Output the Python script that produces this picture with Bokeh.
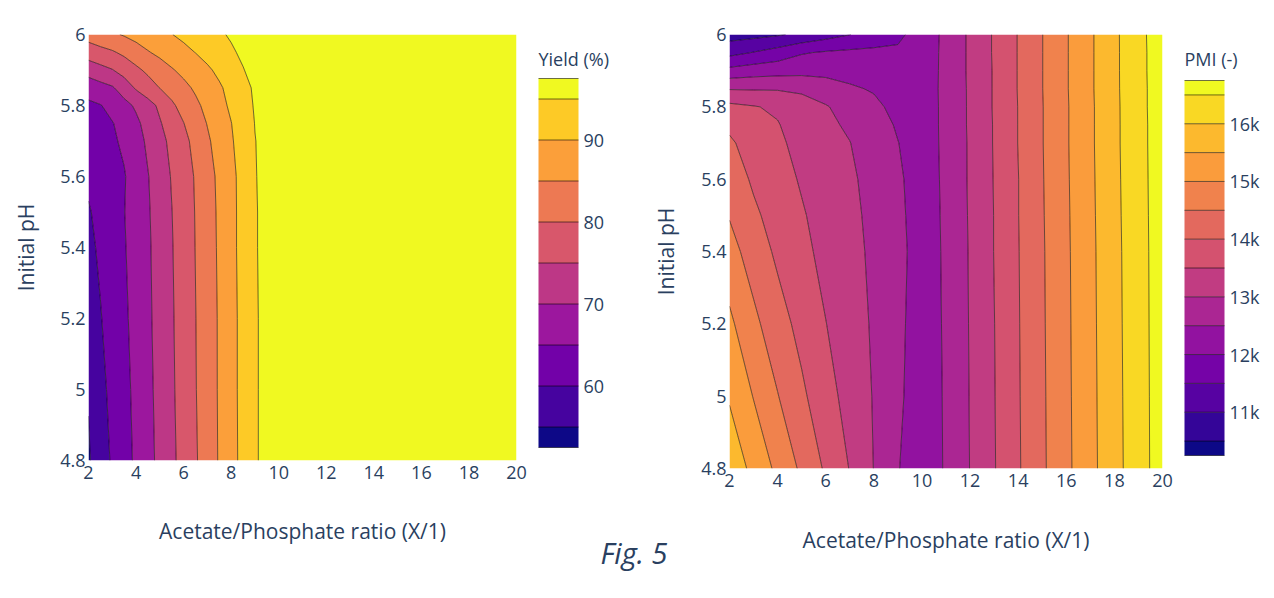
import numpy as np
from bokeh.plotting import figure
from bokeh.layouts import row
from bokeh.models import Range1d, FixedTicker, CustomJSTickFormatter, Title
from bokeh.embed import file_html
from bokeh.resources import INLINE

# ---------------- data ----------------
PH = [4.8, 5.0, 5.2, 5.4, 5.5, 5.6, 5.7, 5.75, 5.8, 5.85, 5.9, 5.95, 6.0]

# Yield (%) surface; columns at these Acetate/Phosphate ratios
YIELD_RATIO = [2, 2.5, 3, 3.5, 4, 4.5, 5, 5.5, 6, 6.5, 7, 7.5, 8, 8.5, 9, 10, 20]
YIELD_PH_4_80 = [54.5, 57.6, 60.6, 63.2, 65.8, 68.5, 71.2, 74.0, 76.7, 79.5, 82.4, 85.4, 88.3, 91.4, 94.6, 97.4, 97.4]
YIELD_PH_5_00 = [55.3, 58.4, 61.5, 63.8, 66.0, 68.8, 71.5, 74.3, 77.0, 79.8, 82.5, 85.5, 88.4, 91.5, 94.6, 97.4, 97.4]
YIELD_PH_5_20 = [57.1, 59.7, 62.2, 64.3, 66.3, 69.1, 71.8, 74.5, 77.1, 79.9, 82.6, 85.5, 88.4, 91.5, 94.6, 97.4, 97.4]
YIELD_PH_5_40 = [58.8, 60.8, 62.7, 64.7, 66.6, 69.3, 72.0, 74.7, 77.4, 80.1, 82.8, 85.7, 88.6, 91.7, 94.7, 97.4, 97.4]
YIELD_PH_5_50 = [59.6, 61.3, 62.9, 64.9, 66.8, 69.5, 72.2, 74.9, 77.5, 80.2, 82.9, 85.8, 88.6, 91.7, 94.7, 97.4, 97.4]
YIELD_PH_5_60 = [60.9, 62.2, 63.4, 64.7, 67.0, 69.8, 72.5, 75.3, 77.8, 80.4, 83.2, 86.0, 88.8, 91.6, 94.8, 97.4, 97.4]
YIELD_PH_5_70 = [62.7, 63.5, 64.4, 65.7, 68.2, 70.8, 73.5, 76.2, 78.7, 81.4, 84.3, 86.9, 89.5, 92.1, 94.9, 97.4, 97.4]
YIELD_PH_5_75 = [63.6, 64.2, 64.8, 66.5, 69.0, 71.7, 74.6, 77.3, 79.9, 82.6, 85.2, 87.6, 89.9, 92.5, 95.1, 97.4, 97.4]
YIELD_PH_5_80 = [64.1, 64.8, 66.4, 68.5, 70.7, 73.2, 75.9, 79.2, 81.7, 84.0, 86.3, 88.5, 90.8, 93.0, 95.4, 97.4, 97.4]
YIELD_PH_5_85 = [67.0, 68.3, 69.5, 72.3, 75.6, 77.8, 80.1, 81.9, 83.8, 85.7, 87.6, 89.4, 91.4, 93.5, 95.7, 97.4, 97.4]
YIELD_PH_5_90 = [72.1, 73.5, 74.8, 76.9, 79.0, 81.0, 82.8, 84.6, 86.2, 87.7, 89.3, 91.0, 92.9, 94.8, 96.5, 97.4, 97.4]
YIELD_PH_5_95 = [77.4, 78.5, 79.5, 81.0, 82.9, 84.7, 86.1, 87.5, 88.8, 90.1, 91.5, 93.0, 94.4, 95.8, 97.3, 97.4, 97.4]
YIELD_PH_6_00 = [82.0, 83.2, 84.3, 85.4, 86.6, 87.7, 88.8, 89.9, 91.0, 92.1, 93.2, 94.4, 95.5, 96.6, 97.4, 97.4, 97.4]

# PMI surface (thousands); columns at these ratios
PMI_RATIO = [2, 3, 4, 5, 6, 7, 8, 9, 10, 11, 12, 13, 14, 15, 16, 17, 18, 19, 20]
PMI_PH_4_80 = [15.85, 15.36, 14.89, 14.41, 13.93, 13.48, 12.99, 12.52, 12.25, 12.54, 13.01, 13.47, 13.95, 14.42, 14.89, 15.36, 15.83, 16.29, 16.74]
PMI_PH_5_00 = [15.45, 14.98, 14.52, 14.09, 13.69, 13.32, 12.97, 12.59, 12.23, 12.55, 13.02, 13.48, 13.96, 14.43, 14.90, 15.37, 15.84, 16.30, 16.74]
PMI_PH_5_20 = [15.10, 14.62, 14.20, 13.85, 13.51, 13.23, 12.94, 12.62, 12.24, 12.56, 13.03, 13.49, 13.97, 14.44, 14.91, 15.38, 15.85, 16.31, 16.74]
PMI_PH_5_40 = [14.69, 14.27, 13.91, 13.63, 13.36, 13.15, 12.91, 12.66, 12.25, 12.57, 13.04, 13.51, 13.98, 14.45, 14.92, 15.39, 15.86, 16.32, 16.74]
PMI_PH_5_50 = [14.47, 14.09, 13.80, 13.55, 13.30, 13.12, 12.88, 12.62, 12.25, 12.58, 13.05, 13.51, 13.99, 14.46, 14.93, 15.40, 15.87, 16.33, 16.74]
PMI_PH_5_60 = [14.27, 13.93, 13.70, 13.45, 13.23, 13.08, 12.84, 12.58, 12.26, 12.59, 13.06, 13.52, 13.99, 14.47, 14.94, 15.41, 15.88, 16.34, 16.74]
PMI_PH_5_70 = [14.07, 13.80, 13.60, 13.33, 13.16, 13.01, 12.77, 12.51, 12.27, 12.60, 13.06, 13.53, 14.01, 14.48, 14.95, 15.42, 15.89, 16.35, 16.74]
PMI_PH_5_75 = [13.91, 13.63, 13.53, 13.25, 13.10, 12.93, 12.71, 12.45, 12.28, 12.60, 13.07, 13.53, 14.01, 14.48, 14.95, 15.42, 15.89, 16.35, 16.74]
PMI_PH_5_80 = [13.63, 13.53, 13.42, 13.17, 13.04, 12.79, 12.60, 12.37, 12.28, 12.60, 13.07, 13.54, 14.01, 14.48, 14.95, 15.42, 15.89, 16.36, 16.74]
PMI_PH_5_85 = [12.97, 12.96, 12.96, 12.93, 12.73, 12.56, 12.46, 12.26, 12.27, 12.61, 13.07, 13.54, 14.02, 14.49, 14.96, 15.43, 15.90, 16.36, 16.74]
PMI_PH_5_90 = [12.15, 12.26, 12.31, 12.34, 12.36, 12.34, 12.29, 12.17, 12.26, 12.61, 13.08, 13.54, 14.02, 14.49, 14.96, 15.43, 15.90, 16.37, 16.74]
PMI_PH_5_95 = [11.34, 11.52, 11.71, 11.96, 12.05, 12.10, 12.11, 12.08, 12.25, 12.61, 13.08, 13.55, 14.02, 14.49, 14.96, 15.43, 15.90, 16.37, 16.74]
PMI_PH_6_00 = [10.80, 10.85, 10.95, 11.10, 11.30, 11.49, 11.70, 11.90, 12.22, 12.61, 13.08, 13.55, 14.02, 14.49, 14.96, 15.43, 15.90, 16.38, 16.74]

YIELD_LEVELS = [52.5, 55, 60, 65, 70, 75, 80, 85, 90, 95, 97.5]
PMI_LEVELS = [10.25, 10.5, 11, 11.5, 12, 12.5, 13, 13.5, 14, 14.5, 15, 15.5, 16, 16.5, 16.75]

X_TICKS = [2, 4, 6, 8, 10, 12, 14, 16, 18, 20]
PH_TICKS = [4.8, 5.0, 5.2, 5.4, 5.6, 5.8, 6.0]
YIELD_CB_TICKS = [60, 70, 80, 90]
PMI_CB_TICKS = [11, 12, 13, 14, 15, 16]

# ---------------- styling ----------------
PLASMA = ['#0d0887', '#46039f', '#7201a8', '#9c179e', '#bd3786',
          '#d8576b', '#ed7953', '#fb9f3a', '#fdca26', '#f0f921']
FONT = "Open Sans"
TXT = "#2a3f5f"


def plasma_at(t):
    t = min(max(t, 0.0), 1.0) * (len(PLASMA) - 1)
    i = min(int(np.floor(t)), len(PLASMA) - 2)
    f = t - i
    a = PLASMA[i].lstrip('#')
    b = PLASMA[i + 1].lstrip('#')
    ca = [int(a[k:k + 2], 16) for k in (0, 2, 4)]
    cb = [int(b[k:k + 2], 16) for k in (0, 2, 4)]
    c = [round(ca[k] + (cb[k] - ca[k]) * f) for k in range(3)]
    return "#%02x%02x%02x" % tuple(c)


def band_palette(n):
    return [plasma_at(k / (n - 1)) for k in range(n)]


def make_plot(xs, z, levels, frame_w, frame_h, mb_left, mb_right, mb_bottom,
              cb_title, cb_ticks, cb_formatter, cb_height, cb_loc,
              x_title_standoff, y_title_standoff):
    p = figure(frame_width=frame_w, frame_height=frame_h,
               min_border_left=mb_left, min_border_right=mb_right,
               min_border_top=34, min_border_bottom=mb_bottom,
               x_range=Range1d(2, 20), y_range=Range1d(4.8, 6.0),
               output_backend="svg", toolbar_location=None)
    p.outline_line_color = None
    p.grid.visible = False
    cr = p.contour(xs, PH, z, levels,
                   fill_color=band_palette(len(levels) - 1),
                   line_color="#000000", line_width=0.75, line_alpha=0.75)
    for ax in (p.xaxis[0], p.yaxis[0]):
        ax.axis_line_color = None
        ax.major_tick_line_color = None
        ax.minor_tick_line_color = None
        ax.major_tick_out = 0
        ax.major_tick_in = 0
        ax.major_label_text_font = FONT
        ax.major_label_text_font_size = "18px"
        ax.major_label_text_color = TXT
        ax.axis_label_text_font = FONT
        ax.axis_label_text_font_size = "21px"
        ax.axis_label_text_font_style = "normal"
        ax.axis_label_text_color = TXT
    p.xaxis.ticker = FixedTicker(ticks=X_TICKS)
    p.yaxis.ticker = FixedTicker(ticks=PH_TICKS)
    p.yaxis.formatter = CustomJSTickFormatter(
        code="return String(Number(tick.toFixed(1)));")
    p.xaxis.major_label_standoff = 5
    p.yaxis.major_label_standoff = 3
    p.xaxis.axis_label = "Acetate/Phosphate ratio (X/1)"
    p.yaxis.axis_label = "Initial pH"
    p.xaxis.axis_label_standoff = x_title_standoff
    p.yaxis.axis_label_standoff = y_title_standoff

    cb = cr.construct_color_bar(
        width=40, height=cb_height, location=cb_loc, padding=0, margin=0,
        orientation="vertical",
        major_label_text_font=FONT, major_label_text_font_size="18px",
        major_label_text_color=TXT, major_tick_line_color=None,
        minor_tick_line_color=None, label_standoff=5,
        background_fill_color=None, border_line_color=None,
        bar_line_color="#c8d4e3", bar_line_width=0.6)
    cb.ticker = FixedTicker(ticks=cb_ticks)
    if cb_formatter is not None:
        cb.formatter = cb_formatter
    p.add_layout(cb)

    # colour-bar title: horizontal text sitting just above the bar
    p.title.text = cb_title
    p.title.align = "left"
    p.title.offset = cb_loc[0]
    p.title.standoff = -72
    p.title.text_font = FONT
    p.title.text_font_size = "18px"
    p.title.text_font_style = "normal"
    p.title.text_color = TXT
    return p


yield_z = np.array([YIELD_PH_4_80, YIELD_PH_5_00, YIELD_PH_5_20, YIELD_PH_5_40,
                    YIELD_PH_5_50, YIELD_PH_5_60, YIELD_PH_5_70, YIELD_PH_5_75,
                    YIELD_PH_5_80, YIELD_PH_5_85, YIELD_PH_5_90, YIELD_PH_5_95,
                    YIELD_PH_6_00])
pmi_z = np.array([PMI_PH_4_80, PMI_PH_5_00, PMI_PH_5_20, PMI_PH_5_40,
                  PMI_PH_5_50, PMI_PH_5_60, PMI_PH_5_70, PMI_PH_5_75,
                  PMI_PH_5_80, PMI_PH_5_85, PMI_PH_5_90, PMI_PH_5_95,
                  PMI_PH_6_00])

p1 = make_plot(YIELD_RATIO, yield_z, YIELD_LEVELS, 428, 426, 88, 164, 130,
               "Yield (%)", YIELD_CB_TICKS, None, 369, (450, 13), 35, 17)
p1.add_layout(Title(text="Fig. 5", align="left", offset=512, standoff=-48,
                    text_font=FONT, text_font_style="italic",
                    text_font_size="29px", text_color=TXT), "below")

p2 = make_plot(PMI_RATIO, pmi_z, PMI_LEVELS, 433, 434, 84, 110, 122,
               "PMI (-)", PMI_CB_TICKS,
               CustomJSTickFormatter(code="return tick + 'k';"),
               375, (455, 13), 36, 18)
p2.border_fill_color = None
p2.margin = (0, 0, 0, -35)

layout = row(p1, p2)
open("out.html", "w").write(file_html(layout, INLINE))
